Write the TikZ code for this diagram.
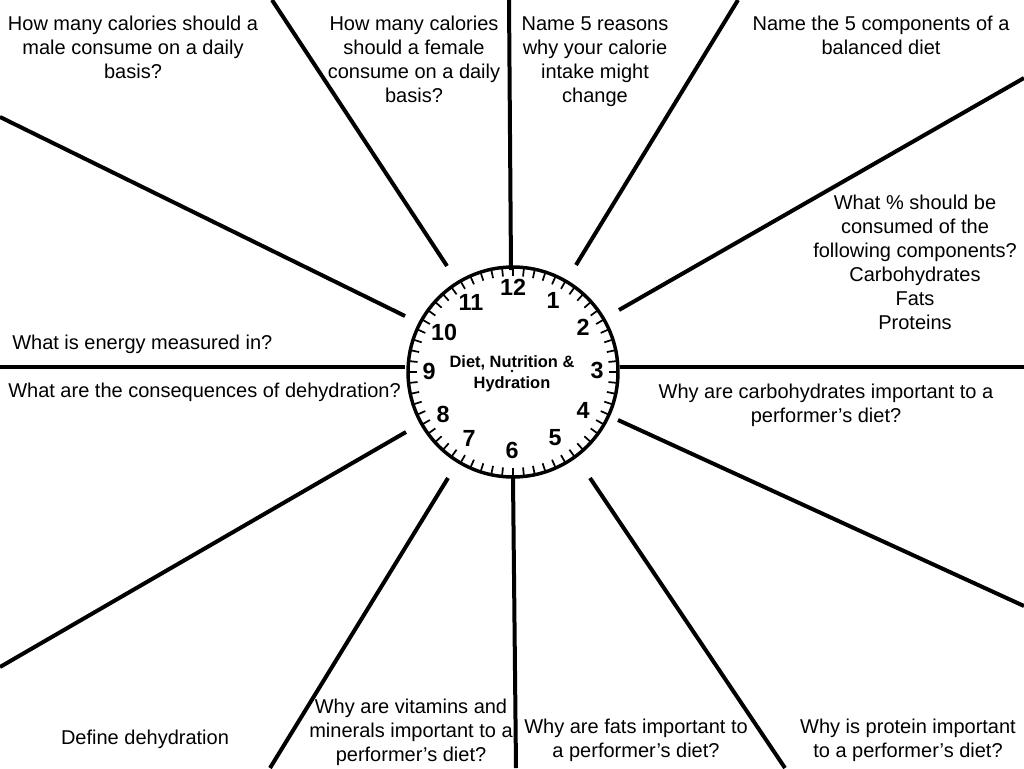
\documentclass[tikz,border=0pt]{standalone}
\usepackage{fontspec}
\setmainfont{Liberation Sans}
\begin{document}
\begin{tikzpicture}[x=0.75pt,y=-0.75pt,
  spoke/.style={line width=3pt},
  q/.style={align=center,font=\fontsize{15}{18}\selectfont,inner sep=0pt,
    execute at begin node=\strut,execute at end node=\strut},
  num/.style={font=\bfseries\fontsize{17.5}{19}\selectfont,inner sep=0pt},
  hub/.style={align=center,font=\bfseries\fontsize{12.3}{15.75}\selectfont,inner sep=0pt},
  rim/.style={line width=2.6pt},
  tick/.style={line width=1.3pt}
]
\useasboundingbox[fill=white] (0,0) rectangle (1024,768);

% clock
\coordinate (C) at (513,372);
\draw[rim] (C) circle[radius=105];
\foreach \a in {0,6,...,354}{
  \draw[tick,shift={(C)}] (\a:104) -- (\a:96);
}
\fill (512,371) circle[radius=1.3];

% spokes: inner ends
\coordinate (i1) at (447,266);
\coordinate (i2) at (511,270);
\coordinate (i3) at (576,265);
\coordinate (i4) at (619,310);
\coordinate (i5) at (620,367);
\coordinate (i6) at (618,420);
\coordinate (i7) at (590,478);
\coordinate (i8) at (513,478);
\coordinate (i9) at (448,478);
\coordinate (i10) at (406,432);
\coordinate (i11) at (405,367);
\coordinate (i12) at (405,316);
% spokes: outer ends
\coordinate (o1) at (272,0);
\coordinate (o2) at (509,0);
\coordinate (o3) at (738,0);
\coordinate (o4) at (1024,78);
\coordinate (o5) at (1024,367);
\coordinate (o6) at (1024,606);
\coordinate (o7) at (785,768);
\coordinate (o8) at (516,768);
\coordinate (o9) at (270,768);
\coordinate (o10) at (0,667);
\coordinate (o11) at (0,367);
\coordinate (o12) at (0,117);
\foreach \k in {1,...,12}{
  \draw[spoke] (i\k) -- (o\k);
}

% clock numbers
\node[num] (n12) at (513,287) {12};
\node[num] (n1) at (553,300) {1};
\node[num] (n2) at (583,327) {2};
\node[num] (n3) at (597,370) {3};
\node[num] (n4) at (583,410) {4};
\node[num] (n5) at (555,438) {5};
\node[num] (n6) at (512,450) {6};
\node[num] (n7) at (469,438) {7};
\node[num] (n8) at (443,414) {8};
\node[num] (n9) at (429,371) {9};
\node[num] (n10) at (444,332) {10};
\node[num] (n11) at (471,302) {11};

\node[hub] (title) at (512,374) {Diet, Nutrition \&\\Hydration};

% questions
\node[q] (male) at (133,51) {How many calories should a\\male consume on a daily\\basis?};
\node[q] (female) at (414,63) {How many calories\\should a female\\consume on a daily\\basis?};
\node[q] (reasons) at (595,63) {Name 5 reasons\\why your calorie\\intake might\\change};
\node[q] (components) at (881,39) {Name the 5 components of a\\balanced diet};
\node[q] (percent) at (915,266) {What \% should be\\consumed of the\\following components?\\Carbohydrates\\Fats\\Proteins};
\node[q,anchor=west] (energy) at (12,345) {What is energy measured in?};
\node[q,anchor=west] (conseq) at (8,393) {What are the consequences of dehydration?};
\node[q] (carbs) at (826,407) {Why are carbohydrates important to a\\performer’s diet?};
\node[q] (define) at (145,740) {Define dehydration};
\node[q] (vitamins) at (411,734) {Why are vitamins and\\minerals important to a\\performer’s diet?};
\node[q] (fats) at (636,742) {Why are fats important to\\a performer’s diet?};
\node[q] (protein) at (908,742) {Why is protein important\\to a performer’s diet?};
\end{tikzpicture}
\end{document}
